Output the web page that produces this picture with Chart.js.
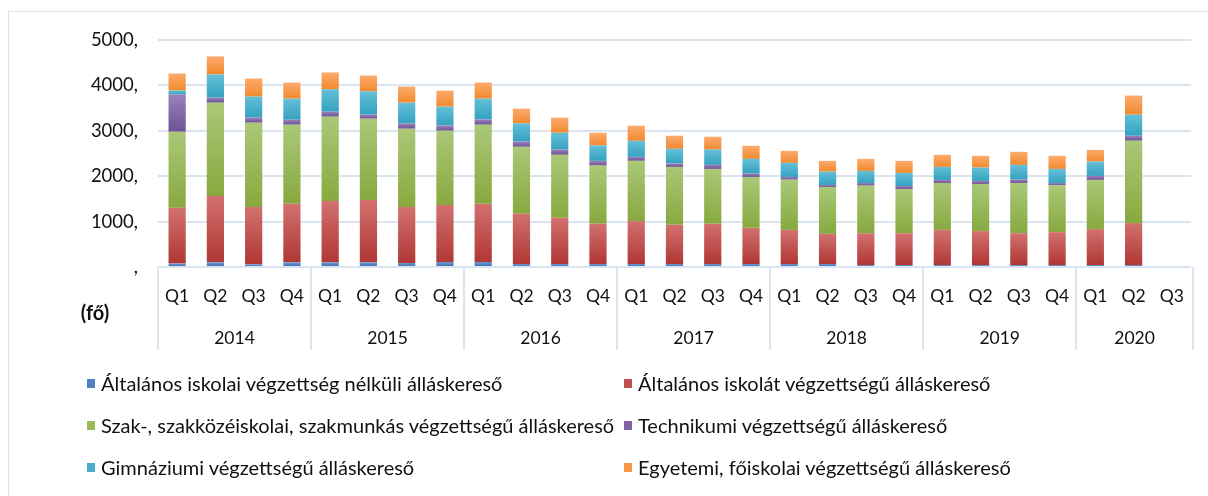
<!DOCTYPE html>
<html lang="hu">
<head>
<meta charset="utf-8">
<title>Álláskeresők iskolai végzettség szerint</title>
<script src="https://cdn.jsdelivr.net/npm/chart.js@4/dist/chart.umd.min.js"></script>
<style>
  html, body { margin: 0; padding: 0; background: #fff; }
  body { width: 1208px; height: 496px; position: relative; overflow: hidden; font-family: Lato, "Open Sans", sans-serif; }
  #frame { position: absolute; left: 8px; top: 11px; width: 1260px; height: 560px; border: 1px solid #d9e1ee; box-sizing: border-box; }
  #wrap { position: absolute; left: 0; top: 0; width: 1208px; height: 496px; }
  #legend { position: absolute; left: 87px; top: 372px; display: grid; grid-template-columns: 537px 560px; grid-auto-rows: 42px; }
  .item { display: flex; align-items: center; height: 22px; font-size: 20px; color: #111; white-space: nowrap; }
  .sw { width: 8px; height: 9px; margin-right: 6px; flex: none; }
</style>
</head>
<body>
<div id="frame"></div>
<div id="wrap"><canvas id="chart" width="1208" height="496"></canvas></div>
<div id="legend"></div>
<script>
// Quarters and the years they belong to
const quarters = ['Q1','Q2','Q3','Q4','Q1','Q2','Q3','Q4','Q1','Q2','Q3','Q4','Q1','Q2','Q3','Q4',
                  'Q1','Q2','Q3','Q4','Q1','Q2','Q3','Q4','Q1','Q2','Q3'];
const years = ['2014','2015','2016','2017','2018','2019','2020'];
const quartersPerYear = [4, 4, 4, 4, 4, 4, 3];
const yTicks = [0, 1000, 2000, 3000, 4000, 5000];

// Job seekers (fő) by highest education level
const noPrimary   = [75,104,60,104,104,104,88,111,111,66,66,66,66,66,66,66,66,66,44,44,44,44,44,44,44,44,null];
const primary     = [1230,1460,1260,1290,1349,1371,1232,1254,1283,1106,1018,885,945,863,885,797,752,664,701,701,774,746,701,724,790,923,null];
const vocational  = [1675,2055,1859,1740,1858,1792,1726,1637,1740,1476,1387,1283,1327,1276,1210,1121,1106,1033,1047,974,1033,1039,1106,1032,1084,1814,null];
const technical   = [818,111,111,111,111,88,117,117,118,117,117,104,89,74,89,73,60,44,59,66,67,67,74,51,88,110,null];
const grammar     = [89,510,464,464,493,516,458,413,457,398,369,339,353,325,338,325,310,294,266,288,287,294,325,310,317,465,null];
const university  = [376,399,398,354,370,347,354,354,354,325,332,280,332,287,281,288,265,237,265,265,266,259,287,288,258,420,null];

const seriesNames = [
  'Általános iskolai végzettség nélküli álláskereső',
  'Általános iskolát végzettségű álláskereső',
  'Szak-, szakközéiskolai, szakmunkás végzettségű álláskereső',
  'Technikumi végzettségű álláskereső',
  'Gimnáziumi végzettségű álláskereső',
  'Egyetemi, főiskolai végzettségű álláskereső'
];
const seriesData = [noPrimary, primary, vocational, technical, grammar, university];
// [legend colour, gradient top, gradient bottom]
const palette = [
  ['#4f81bd', '#6d98cf', '#3b6aab'],
  ['#c0504d', '#d2716f', '#b03734'],
  ['#9bbb59', '#aac878', '#87a93f'],
  ['#8064a2', '#9a82b9', '#6d5196'],
  ['#4bacc6', '#66bfd7', '#33a2c1'],
  ['#f79646', '#fcab6e', '#f2892d']
];

const gridColor = '#dbe4f1';
const textColor = '#111111';
const fontFamily = 'Lato, "Open Sans", sans-serif';

// Vertical shading for one stacked segment, light at its top and dark at its base
function segmentFill(ctx) {
  const i = ctx.datasetIndex;
  const chart = ctx.chart;
  const y = chart.scales && chart.scales.y;
  const v = seriesData[i][ctx.dataIndex];
  if (!y || !chart.chartArea || v == null) return palette[i][0];
  let start = 0;
  for (let k = 0; k < i; k++) start += seriesData[k][ctx.dataIndex] || 0;
  const top = y.getPixelForValue(start + v);
  const base = y.getPixelForValue(start);
  if (!isFinite(top) || !isFinite(base) || top === base) return palette[i][0];
  const g = chart.ctx.createLinearGradient(0, top, 0, base);
  g.addColorStop(0, palette[i][1]);
  g.addColorStop(1, palette[i][2]);
  return g;
}

// Year groups under the quarter labels, with the boxed separators and unit label
const yearAxis = {
  id: 'yearAxis',
  afterDraw(chart) {
    const ctx = chart.ctx;
    const x = chart.scales.x;
    const area = chart.chartArea;
    const step = (x.right - x.left) / quarters.length;
    const bottom = 350;
    ctx.save();
    ctx.strokeStyle = gridColor;
    ctx.lineWidth = 2;
    let idx = 0;
    const edges = [x.left];
    quartersPerYear.forEach(n => { idx += n; edges.push(x.left + idx * step); });
    edges[edges.length - 1] = x.right + 2;
    edges.forEach(px => {
      ctx.beginPath();
      ctx.moveTo(Math.round(px), area.bottom);
      ctx.lineTo(Math.round(px), bottom);
      ctx.stroke();
    });
    ctx.fillStyle = textColor;
    ctx.font = '17.5px ' + fontFamily;
    ctx.textAlign = 'center';
    ctx.textBaseline = 'middle';
    years.forEach((yr, k) => {
      ctx.fillText(yr, (edges[k] + edges[k + 1]) / 2, 338);
    });
    ctx.font = 'bold 20px ' + fontFamily;
    ctx.fillText('(fő)', 95, 314);
    ctx.restore();
  }
};

new Chart(document.getElementById('chart'), {
  type: 'bar',
  data: {
    labels: quarters,
    datasets: seriesNames.map((name, i) => ({
      label: name,
      data: seriesData[i],
      backgroundColor: segmentFill,
      borderWidth: 0,
      categoryPercentage: 1,
      barPercentage: 0.45
    }))
  },
  options: {
    responsive: false,
    animation: false,
    layout: { padding: { left: 0, right: 17, top: 40, bottom: 0 } },
    plugins: { legend: { display: false }, tooltip: { enabled: false } },
    scales: {
      x: {
        stacked: true,
        grid: { display: false, drawTicks: false },
        border: { display: false },
        ticks: { color: textColor, font: { family: fontFamily, size: 17.5 }, padding: 19, maxRotation: 0, autoSkip: false },
        afterFit(scale) { scale.height = 229; }
      },
      y: {
        stacked: true,
        min: 0,
        max: 5000,
        afterBuildTicks(scale) { scale.ticks = yTicks.map(v => ({ value: v })); },
        grid: { color: gridColor, lineWidth: 2, drawTicks: false },
        border: { display: false },
        ticks: {
          color: textColor,
          font: { family: fontFamily, size: 18.5 },
          padding: 20,
          callback: v => (v === 0 ? '' : String(v)) + ','
        },
        afterFit(scale) { scale.width = 158; }
      }
    }
  },
  plugins: [yearAxis]
});

// Two-column legend built from the series list
const legend = document.getElementById('legend');
seriesNames.forEach((name, i) => {
  const item = document.createElement('div');
  item.className = 'item';
  const sw = document.createElement('span');
  sw.className = 'sw';
  sw.style.background = palette[i][0];
  const tx = document.createElement('span');
  tx.textContent = name;
  item.appendChild(sw);
  item.appendChild(tx);
  legend.appendChild(item);
});
</script>
</body>
</html>
